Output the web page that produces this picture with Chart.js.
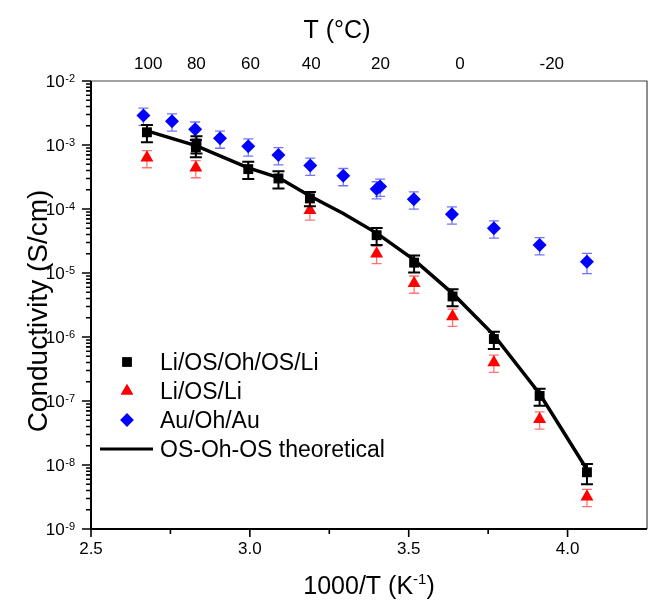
<!DOCTYPE html>
<html><head><meta charset="utf-8">
<script src="https://cdn.jsdelivr.net/npm/chart.js@4.4.0/dist/chart.umd.min.js"></script>
<style>html,body{margin:0;padding:0;background:#fff}#wrap{width:648px;height:605px;position:relative}</style>
</head><body><div id="wrap"><canvas id="c" width="648" height="605"></canvas></div>
<script>
// ---- data ----
const seriesNames = ['Li/OS/Oh/OS/Li', 'Li/OS/Li', 'Au/Oh/Au', 'OS-Oh-OS theoretical'];

const blackX   = [2.676, 2.830, 2.832, 2.995, 3.090, 3.189, 3.399, 3.517, 3.638, 3.768, 3.912, 4.061];
const blackY   = [1.58e-3, 9.2e-4, 1.05e-3, 4.2e-4, 3.0e-4, 1.47e-4, 3.9e-5, 1.45e-5, 4.3e-6, 9.3e-7, 1.2e-7, 7.7e-9];
const blackErr = [0.3, 0.3, 0.3, 0.3, 0.3, 0.25, 0.3, 0.3, 0.3, 0.3, 0.3, 0.35];

const redX   = [2.676, 2.830, 3.189, 3.399, 3.517, 3.638, 3.768, 3.912, 4.061];
const redY   = [6.3e-4, 4.4e-4, 9.6e-5, 2.0e-5, 6.9e-6, 2.1e-6, 4.0e-7, 5.2e-8, 3.2e-9];
const redErr = [0.3, 0.3, 0.3, 0.3, 0.3, 0.3, 0.3, 0.3, 0.3];

const blueX   = [2.665, 2.755, 2.828, 2.906, 2.995, 3.090, 3.190, 3.294, 3.399, 3.410, 3.516, 3.636, 3.768, 3.912, 4.061];
const blueY   = [2.9e-3, 2.35e-3, 1.76e-3, 1.27e-3, 9.6e-4, 7.0e-4, 4.8e-4, 3.3e-4, 2.05e-4, 2.25e-4, 1.42e-4, 8.3e-5, 5.0e-5, 2.75e-5, 1.5e-5];
const blueErr = [0.3, 0.3, 0.3, 0.3, 0.3, 0.3, 0.3, 0.3, 0.3, 0.3, 0.3, 0.3, 0.3, 0.3, 0.35];

const theoX = [2.676, 2.830, 2.995, 3.090, 3.189, 3.294, 3.399, 3.517, 3.638, 3.768, 3.912, 4.061];
const theoY = [1.66e-3, 9.8e-4, 4.4e-4, 3.1e-4, 1.6e-4, 8.5e-5, 4.2e-5, 1.6e-5, 4.8e-6, 1.07e-6, 1.3e-7, 8.5e-9];

const xMajorTicks = [2.5, 3.0, 3.5, 4.0];
const xMinorTicks = [2.75, 3.25, 3.75];
const yExponents = [-9, -8, -7, -6, -5, -4, -3, -2];
const topTempLabels = [100, 80, 60, 40, 20, 0, -20];

const xTitle = ['1000/T (K', '-1', ')'];
const yTitle = 'Conductivity (S/cm)';
const topTitle = 'T (°C)';

// ---- chart ----
const FONT = '"Liberation Sans", Arial, sans-serif';
const pts = (xs, ys) => xs.map((x, i) => ({x: x, y: ys[i]}));
const errs = [blackErr, redErr, blueErr, null];

const errorBars = {
  id: 'errorBars',
  beforeDatasetDraw(chart, args) {
    const ds = chart.data.datasets[args.index];
    const e = errs[args.index];
    if (!e) return;
    const xs = chart.scales.x, ys = chart.scales.y, ctx = chart.ctx;
    ctx.save();
    ctx.strokeStyle = ds.errColor;
    ctx.lineWidth = ds.errWidth;
    ds.data.forEach((p, i) => {
      const px = xs.getPixelForValue(p.x);
      const top = ys.getPixelForValue(p.y * (1 + e[i]));
      const bot = ys.getPixelForValue(p.y * (1 - e[i]));
      const hw = ds.capHalf;
      ctx.beginPath();
      ctx.moveTo(px, top); ctx.lineTo(px, bot);
      ctx.moveTo(px - hw, top); ctx.lineTo(px + hw, top);
      ctx.moveTo(px - hw, bot); ctx.lineTo(px + hw, bot);
      ctx.stroke();
    });
    ctx.restore();
  }
};

const decorations = {
  id: 'decorations',
  afterDraw(chart) {
    const ctx = chart.ctx, a = chart.chartArea;
    const xs = chart.scales.x, ys = chart.scales.y;
    ctx.save();
    // frame
    ctx.strokeStyle = '#444'; ctx.lineWidth = 1.2;
    ctx.beginPath();
    ctx.moveTo(a.left, a.top); ctx.lineTo(a.right, a.top); ctx.lineTo(a.right, a.bottom);
    ctx.stroke();
    ctx.strokeStyle = '#000'; ctx.lineWidth = 2;
    ctx.beginPath();
    ctx.moveTo(a.left, a.top); ctx.lineTo(a.left, a.bottom); ctx.lineTo(a.right, a.bottom);
    ctx.stroke();

    // bottom ticks
    ctx.lineWidth = 1.6;
    ctx.beginPath();
    xMajorTicks.forEach(v => { const p = xs.getPixelForValue(v); ctx.moveTo(p, a.bottom); ctx.lineTo(p, a.bottom + 8); });
    xMinorTicks.forEach(v => { const p = xs.getPixelForValue(v); ctx.moveTo(p, a.bottom); ctx.lineTo(p, a.bottom + 5); });
    // left ticks
    yExponents.forEach((ex, k) => {
      const p = ys.getPixelForValue(Math.pow(10, ex));
      ctx.moveTo(a.left - 9, p); ctx.lineTo(a.left, p);
      if (k < yExponents.length - 1) {
        for (let m = 2; m <= 9; m++) {
          const q = ys.getPixelForValue(m * Math.pow(10, ex));
          ctx.moveTo(a.left - 5, q); ctx.lineTo(a.left, q);
        }
      }
    });
    ctx.stroke();

    ctx.fillStyle = '#000';
    // bottom tick labels
    ctx.font = '17px ' + FONT; ctx.textAlign = 'center'; ctx.textBaseline = 'top';
    xMajorTicks.forEach(v => ctx.fillText(v.toFixed(1), xs.getPixelForValue(v), a.bottom + 12));
    // top tick labels
    ctx.textBaseline = 'alphabetic';
    topTempLabels.forEach(t => ctx.fillText(String(t), xs.getPixelForValue(1000 / (t + 273.15)), 69));
    // left tick labels 10^n
    yExponents.forEach(ex => {
      const p = ys.getPixelForValue(Math.pow(10, ex));
      const R = 75;
      ctx.font = '11px ' + FONT;
      const es = String(ex);
      const we = ctx.measureText(es).width;
      ctx.textAlign = 'left'; ctx.textBaseline = 'alphabetic';
      ctx.fillText(es, R - we, p + 0.5);
      ctx.font = '17px ' + FONT;
      const wb = ctx.measureText('10').width;
      ctx.fillText('10', R - we - wb - 0.5, p + 6);
    });

    // titles
    ctx.font = '25px ' + FONT;
    ctx.textAlign = 'center'; ctx.textBaseline = 'alphabetic';
    ctx.fillText(topTitle, 337, 38);
    // bottom title with superscript
    ctx.font = '25px ' + FONT; const w1 = ctx.measureText(xTitle[0]).width, w3 = ctx.measureText(xTitle[2]).width;
    ctx.font = '15px ' + FONT; const w2 = ctx.measureText(xTitle[1]).width;
    let bx = (a.left + a.right) / 2 - (w1 + w2 + w3) / 2;
    const by = 594;
    ctx.textAlign = 'left';
    ctx.font = '25px ' + FONT; ctx.fillText(xTitle[0], bx, by);
    ctx.font = '15px ' + FONT; ctx.fillText(xTitle[1], bx + w1, by - 10);
    ctx.font = '25px ' + FONT; ctx.fillText(xTitle[2], bx + w1 + w2, by);
    // left title
    ctx.save();
    ctx.translate(47, (a.top + a.bottom) / 2 + 6);
    ctx.rotate(-Math.PI / 2);
    ctx.font = '28px ' + FONT; ctx.textAlign = 'center';
    ctx.fillText(yTitle, 0, 0);
    ctx.restore();

    // legend
    const rows = [362, 391, 420, 449];
    chart.data.datasets.forEach((ds, i) => {
      const y = rows[i];
      if (i < 3) {
        ctx.fillStyle = ds.backgroundColor;
        Chart.helpers.drawPoint(ctx, {pointStyle: ds.pointStyle, radius: ds.pointRadius * 0.95, rotation: 0, borderWidth: 0}, 127, y);
        ctx.fill();
      } else {
        ctx.strokeStyle = ds.borderColor; ctx.lineWidth = 3;
        ctx.beginPath(); ctx.moveTo(100, y); ctx.lineTo(153, y); ctx.stroke();
      }
      ctx.fillStyle = '#000';
      ctx.font = '23px ' + FONT; ctx.textAlign = 'left'; ctx.textBaseline = 'alphabetic';
      ctx.fillText(seriesNames[i], 160, y + 8.3);
    });
    ctx.restore();
  }
};

const noPad = s => { s.paddingLeft = 0; s.paddingRight = 0; };

new Chart(document.getElementById('c'), {
  type: 'scatter',
  data: {
    datasets: [
      {label: seriesNames[0], data: pts(blackX, blackY), pointStyle: 'rect', pointRadius: 7, hoverRadius: 0, backgroundColor: '#000', borderColor: '#000', borderWidth: 0,
       errColor: '#000', errWidth: 2, capHalf: 6},
      {label: seriesNames[1], data: pts(redX, redY), pointStyle: 'triangle', pointRadius: 7.5, hoverRadius: 0, backgroundColor: '#ff0000', borderColor: '#ff0000', borderWidth: 0,
       errColor: 'rgba(255,0,0,0.55)', errWidth: 1.3, capHalf: 5},
      {label: seriesNames[2], data: pts(blueX, blueY), pointStyle: 'rectRot', pointRadius: 7, hoverRadius: 0, backgroundColor: '#0000ff', borderColor: '#0000ff', borderWidth: 0,
       errColor: 'rgba(0,0,255,0.55)', errWidth: 1.3, capHalf: 5}
      ,{label: seriesNames[3], data: pts(theoX, theoY), showLine: true, pointRadius: 0, hoverRadius: 0, borderColor: '#000', backgroundColor: '#000', borderWidth: 3.5, tension: 0}
    ].map((d, i) => Object.assign(d, {order: [1, 2, 3, 4][i]}))
  },
  options: {
    responsive: false, animation: false, devicePixelRatio: 1, events: [],
    layout: {autoPadding: false, padding: {left: 0, right: 1, top: 0, bottom: 0}},
    plugins: {legend: {display: false}, tooltip: {enabled: false}},
    scales: {
      x: {type: 'linear', position: 'bottom', min: 2.5, max: 4.25, grid: {display: false}, border: {display: false}, ticks: {display: false},
          afterFit(s) { s.height = 76; noPad(s); }},
      x2: {type: 'linear', position: 'top', min: 2.5, max: 4.25, grid: {display: false}, border: {display: false}, ticks: {display: false},
          afterFit(s) { s.height = 81; noPad(s); }},
      y: {type: 'logarithmic', position: 'left', min: 1e-9, max: 1e-2, grid: {display: false}, border: {display: false}, ticks: {display: false},
          afterFit(s) { s.width = 91; }}
    }
  },
  plugins: [errorBars, decorations]
});
</script>
</body></html>
